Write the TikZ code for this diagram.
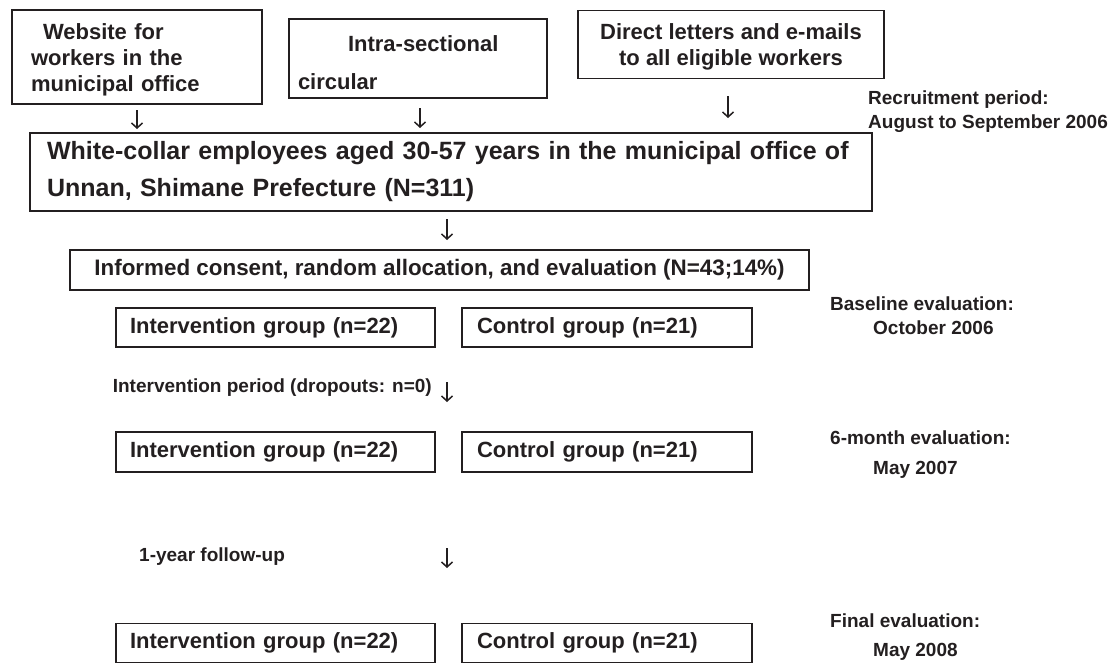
\documentclass[tikz,border=0pt]{standalone}
\usepackage{fontspec}
\setmainfont{Liberation Sans}
\usetikzlibrary{arrows.meta}
\definecolor{ink}{HTML}{231F20}

\begin{document}
\begin{tikzpicture}
				[x=1pt,y=-1pt,every node/.style={text=ink,font=\bfseries},
				box/.style={draw=ink,line width=1.8pt,inner sep=0pt,outer sep=0pt,font=\bfseries\fontsize{22}{26}\selectfont},
				note/.style={anchor=west,inner sep=0pt,align=left,font=\bfseries\fontsize{19}{24}\selectfont},
				down/.style={draw=ink,line width=1.5pt,-{Straight Barb[length=5pt,width=11pt]}}]
				\useasboundingbox (0,0) rectangle (1113,664);
				% recruitment sources
				\node[box,minimum width=250,minimum height=94,text width=212,align=left] (web) at (137,57)
					{\rule{0pt}{22.5pt}\hspace*{12pt}Website for\\workers in the\\municipal office};
				\node[box,minimum width=258,minimum height=79,text width=240,align=left] (circ) at (418,58.5)
					{\rule{0pt}{25pt}\hspace*{50pt}Intra-sectional\\[12pt]circular};
				\node[box,minimum width=306,minimum height=68,align=center] (mail) at (731,44.5)
					{\rule{0pt}{20.5pt}Direct letters and e-mails\\to all eligible workers};
				\node[note] (recr) at (868,112) {Recruitment period:\\August to September 2006};
				% population and allocation
				\node[box,minimum width=842,minimum height=78,text width=808,align=left,
					font=\bfseries\fontsize{25}{37}\selectfont] (pop) at (451,172)
					{White-collar employees aged 30-57 years in the municipal office of\\Unnan, Shimane Prefecture (N=311)};
				\node[box,minimum width=739,minimum height=40,font=\bfseries\fontsize{22.4}{26}\selectfont] (cons) at (439.5,270)
					{Informed consent, random allocation, and evaluation (N=43;14\%)};
				% groups
				\node[box,minimum width=319,minimum height=39,text width=291,align=left] (int1) at (275.5,327.5) {Intervention group (n=22)};
				\node[box,minimum width=290,minimum height=39,text width=260,align=left] (con1) at (607,327.5) {Control group (n=21)};
				\node[box,minimum width=319,minimum height=40,text width=291,align=left] (int2) at (275.5,452) {Intervention group (n=22)};
				\node[box,minimum width=290,minimum height=40,text width=260,align=left] (con2) at (607,452) {Control group (n=21)};
				\node[box,minimum width=319,minimum height=39,text width=291,align=left] (int3) at (275.5,643) {Intervention group (n=22)};
				\node[box,minimum width=290,minimum height=39,text width=260,align=left] (con3) at (607,643) {Control group (n=21)};
				% periods
				\node[note,anchor=east] (drop) at (432,388) {Intervention period (dropouts: n=0)};
				\node[note] (foll) at (139,557) {1-year follow-up};
				\node[note] (base) at (830,315.5) {Baseline evaluation:\\\hspace*{43pt}October 2006};
				\node[note] (six) at (830,455) {6-month evaluation:\\[6pt]\hspace*{43pt}May 2007};
				\node[note] (fin) at (830,637.5) {Final evaluation:\\[5pt]\hspace*{43pt}May 2008};
				% arrows
				\coordinate (a1) at (137,110);  \coordinate (b1) at (137,129);
				\coordinate (a2) at (420,108);  \coordinate (b2) at (420,128);
				\coordinate (a3) at (728,96);   \coordinate (b3) at (728,118);
				\coordinate (a4) at (447,219);  \coordinate (b4) at (447,240);
				\coordinate (a5) at (447,382);  \coordinate (b5) at (447,402);
				\coordinate (a6) at (447,548);  \coordinate (b6) at (447,568);
				\foreach \from/\to in {a1/b1, a2/b2, a3/b3, a4/b4, a5/b5, a6/b6}
				\draw[down] (\from) -- (\to);
			\end{tikzpicture}
\end{document}
